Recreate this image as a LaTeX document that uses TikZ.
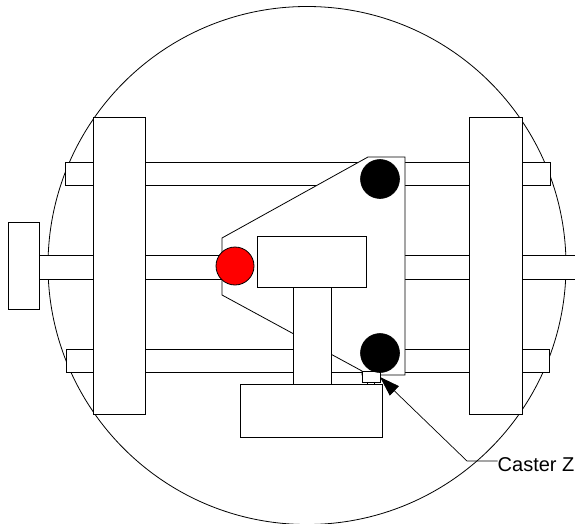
\documentclass[tikz,border=0pt]{standalone}
\usepackage{fontspec}
\setmainfont{Liberation Sans}
\usetikzlibrary{arrows.meta}
\tikzset{
  part/.style={draw=black,fill=white,line width=0.8pt},
  leader/.style={draw=black,line width=0.7pt},
  wheelhub/.style={draw=black,fill=black,line width=0.6pt},
  redhub/.style={draw=black,fill=red,line width=0.8pt}
}
\begin{document}
\begin{tikzpicture}[x=1pt,y=-1pt]
\useasboundingbox (0,0) rectangle (575,524);
\clip (0,0) rectangle (575,524);
% enclosing circle
\draw[line width=0.8pt] (307,265.5) circle[radius=259];
% axles
\draw[part] (65,162) rectangle (550,185.5);
\draw[part] (66,349) rectangle (549,372);
\draw[part] (39,255) rectangle (590,279);
% knob
\draw[part] (8,222) rectangle (39,309);
% side frames
\draw[part] (93,117) rectangle (145,414);
\draw[part] (469,117) rectangle (522,414);
% plate
\draw[part] (222,238) -- (368,157) -- (405,157) -- (405,375) -- (362,375) -- (362,371) -- (222,295) -- cycle;
% stem, boxes
\draw[part] (293,287) rectangle (331,384);
\draw[part] (257,236) rectangle (366,287);
\draw[part] (240,384) rectangle (382,437);
% caster
\draw[part] (367,381) rectangle (374,384);
\draw[part] (362,371) rectangle (380,382);
\coordinate (tip) at (380,377);
% hubs
\node[wheelhub,circle,minimum size=39pt,inner sep=0pt] (hubtop) at (380,179) {};
\node[wheelhub,circle,minimum size=39pt,inner sep=0pt] (hubbottom) at (380,353) {};
\node[redhub,circle,minimum size=38pt,inner sep=0pt] (hubred) at (235,266) {};
% label and leader
\node[anchor=west,inner sep=0pt,font=\fontsize{20}{20}\selectfont] (casterlabel) at (497.5,465) {Caster Ze};
\coordinate (elbow) at (467,461);
\draw[leader,-{Triangle[length=20pt,width=13pt]}] (casterlabel.west |- elbow) -- (elbow) -- (tip);
\end{tikzpicture}
\end{document}
